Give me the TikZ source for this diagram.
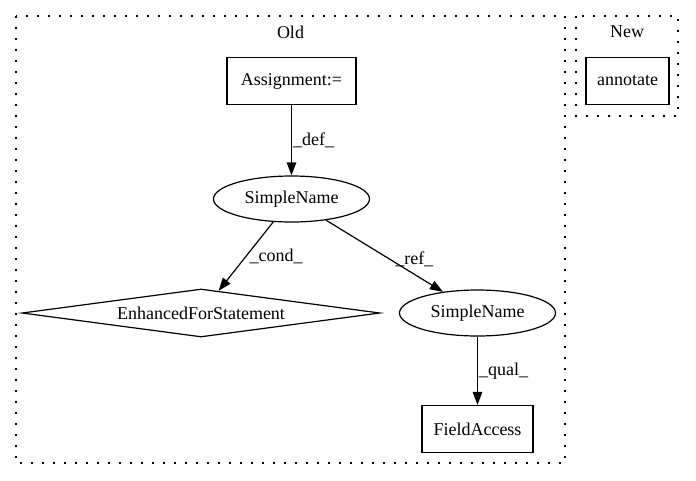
\documentclass[tikz,border=0pt]{standalone}
\usepackage{fontspec}
\setmainfont{Liberation Serif}
\usepackage{tikz}
\usetikzlibrary{shapes.geometric, arrows.meta}

\begin{document}
\begin{tikzpicture}[->, >={Triangle[length=13pt, width=9.5pt]}, line width=1.2pt, x=1pt, y=-1pt,
        font=\fontsize{18}{21}\selectfont,
        box/.style={draw, rectangle, minimum height=47pt, inner xsep=2pt},
        oval/.style={draw, ellipse, minimum width=156pt, minimum height=46pt, inner sep=2pt},
        cluster/.style={-, draw, dash pattern=on 2pt off 9pt}]
    	\useasboundingbox (0,0) rectangle (696,480);
    	% clusters
    	\draw[cluster] (16,16) rectangle (565,463);
    	\draw[cluster] (576,16) rectangle (678,116);
    	\node (old) at (290.5,32) {Old};
    	\node (new) at (627,32) {New};
    	% nodes
    	\node[box, minimum width=129pt] (assign) at (291.5,81) {Assignment:=};
    	\node[box, minimum width=83pt] (annotate) at (627.5,81) {annotate};
    	\node[oval] (name1) at (291.5,199) {SimpleName};
    	\node[draw, diamond, aspect=7.5, inner sep=0pt, minimum width=358pt, minimum height=48pt] (loop) at (201,313) {EnhancedForStatement};
    	\node[oval] (name2) at (477.5,313) {SimpleName};
    	\node[box, minimum width=111pt] (field) at (477.5,429) {FieldAccess};
    	\draw 	(assign) edge node[right, inner sep=1pt]{\_def\_} (name1)
				(name1) edge node[right, inner sep=3pt]{\_cond\_} (loop)
				(name1) edge node[right, xshift=7pt, yshift=-3pt]{\_ref\_} (name2)
				(name2) edge node[right, inner sep=1pt]{\_qual\_} (field)
	;
    \end{tikzpicture}
\end{document}
